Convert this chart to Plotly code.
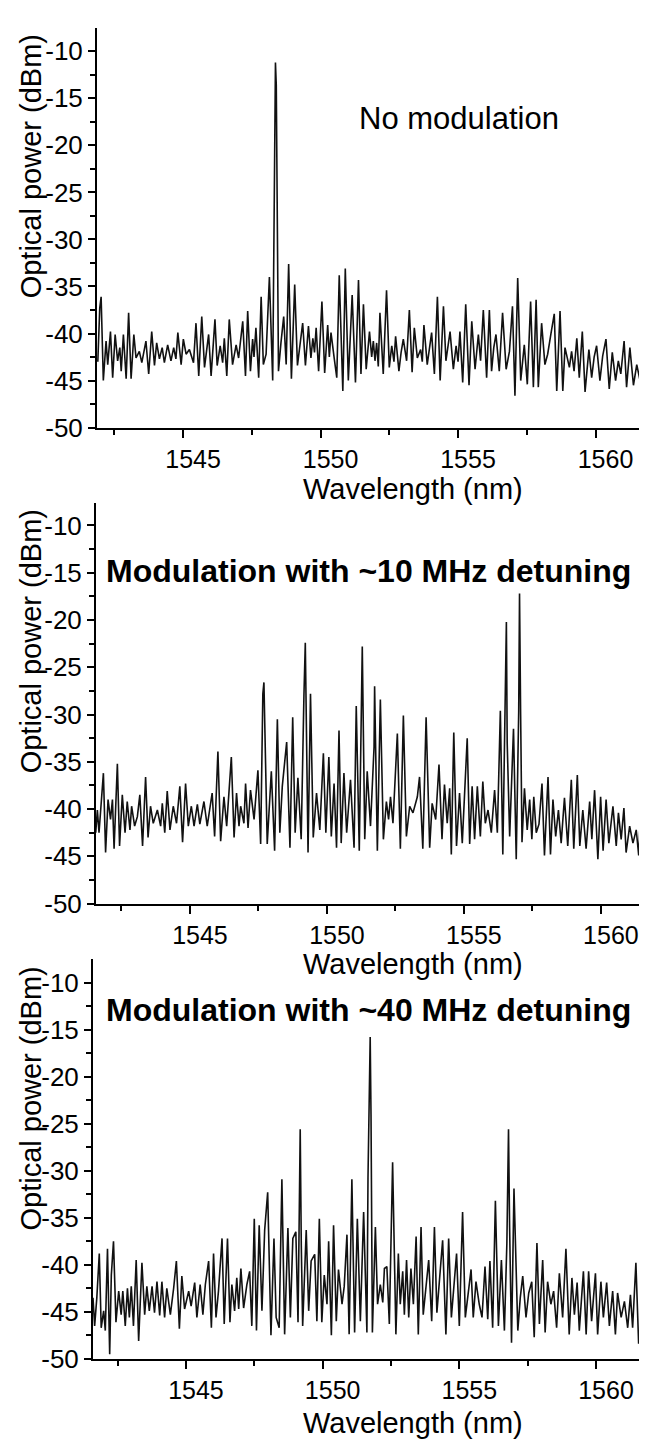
import plotly.graph_objects as go

# ---------------- data ----------------
# (wavelength nm, optical power dBm)
no_modulation = [
    (1541.90, -43.0), (1541.97, -37.3), (1542.02, -36.1), (1542.10, -45.0), (1542.20, -40.8),
    (1542.26, -43.3), (1542.36, -39.8), (1542.44, -44.7), (1542.53, -40.1), (1542.62, -42.9),
    (1542.70, -41.5), (1542.75, -44.0), (1542.83, -40.1), (1542.93, -44.8), (1543.02, -37.8),
    (1543.11, -44.8), (1543.21, -40.1), (1543.29, -42.6), (1543.41, -41.9), (1543.50, -43.1),
    (1543.65, -40.8), (1543.75, -44.3), (1543.86, -39.8), (1543.96, -43.4), (1544.04, -41.0),
    (1544.14, -42.7), (1544.24, -41.5), (1544.32, -43.1), (1544.44, -41.2), (1544.56, -42.9),
    (1544.66, -41.5), (1544.74, -42.7), (1544.81, -39.9), (1544.93, -43.3), (1545.01, -40.6),
    (1545.11, -42.2), (1545.23, -41.7), (1545.38, -43.1), (1545.47, -38.9), (1545.57, -44.5),
    (1545.68, -38.2), (1545.78, -43.6), (1545.93, -40.1), (1546.02, -44.5), (1546.16, -38.5),
    (1546.24, -43.4), (1546.35, -41.3), (1546.44, -43.1), (1546.50, -40.5), (1546.59, -44.5),
    (1546.68, -38.5), (1546.80, -43.3), (1546.93, -41.2), (1547.02, -42.6), (1547.17, -38.7),
    (1547.27, -44.5), (1547.35, -37.6), (1547.45, -44.0), (1547.53, -40.6), (1547.58, -42.5),
    (1547.65, -39.4), (1547.75, -44.7), (1547.84, -36.1), (1547.92, -43.3), (1548.02, -42.2),
    (1548.14, -34.0), (1548.26, -45.0), (1548.30, -31.5), (1548.33, -22.7), (1548.36, -11.2),
    (1548.39, -13.6), (1548.43, -31.8), (1548.47, -44.0), (1548.56, -41.0), (1548.66, -38.2),
    (1548.75, -43.3), (1548.84, -32.6), (1548.94, -44.8), (1549.06, -34.8), (1549.16, -43.4),
    (1549.25, -41.2), (1549.35, -38.9), (1549.45, -43.4), (1549.56, -39.2), (1549.65, -42.6),
    (1549.72, -40.5), (1549.78, -42.0), (1549.84, -39.4), (1549.93, -44.0), (1550.05, -36.6),
    (1550.15, -44.2), (1550.26, -39.1), (1550.32, -42.5), (1550.38, -39.9), (1550.50, -42.7),
    (1550.59, -44.7), (1550.68, -33.8), (1550.81, -46.1), (1550.90, -33.1), (1551.01, -45.0),
    (1551.15, -35.9), (1551.27, -45.2), (1551.38, -34.3), (1551.47, -44.3), (1551.56, -36.9),
    (1551.66, -43.8), (1551.78, -39.8), (1551.86, -42.5), (1551.92, -40.8), (1551.98, -42.9),
    (1552.04, -41.0), (1552.10, -43.5), (1552.16, -37.8), (1552.28, -44.3), (1552.40, -35.4),
    (1552.50, -43.6), (1552.59, -41.3), (1552.67, -43.0), (1552.73, -40.3), (1552.85, -44.0),
    (1552.93, -42.0), (1553.01, -40.6), (1553.13, -42.9), (1553.23, -37.5), (1553.33, -44.1),
    (1553.41, -39.4), (1553.52, -42.6), (1553.64, -41.7), (1553.70, -43.0), (1553.76, -39.1),
    (1553.88, -43.3), (1553.96, -41.5), (1554.04, -39.9), (1554.14, -44.3), (1554.25, -36.1),
    (1554.35, -45.0), (1554.47, -37.1), (1554.56, -42.9), (1554.64, -41.0), (1554.71, -39.8),
    (1554.83, -43.8), (1554.93, -41.3), (1555.00, -43.0), (1555.07, -39.8), (1555.17, -45.2),
    (1555.28, -36.9), (1555.40, -45.5), (1555.50, -38.7), (1555.62, -43.8), (1555.74, -40.1),
    (1555.82, -42.9), (1555.92, -37.5), (1556.04, -44.7), (1556.14, -37.5), (1556.22, -44.0),
    (1556.30, -41.5), (1556.38, -40.1), (1556.50, -44.0), (1556.62, -37.8), (1556.75, -43.8),
    (1556.87, -41.9), (1556.98, -37.1), (1557.07, -46.6), (1557.17, -34.1), (1557.28, -45.0),
    (1557.41, -41.2), (1557.52, -45.4), (1557.64, -36.6), (1557.74, -45.7), (1557.84, -36.4),
    (1557.92, -45.7), (1558.04, -38.9), (1558.16, -43.3), (1558.26, -42.2), (1558.38, -40.0),
    (1558.50, -37.9), (1558.59, -46.1), (1558.71, -37.6), (1558.81, -46.1), (1558.89, -41.5),
    (1559.05, -43.6), (1559.13, -41.9), (1559.22, -44.0), (1559.32, -40.5), (1559.41, -44.7),
    (1559.52, -39.8), (1559.62, -46.2), (1559.76, -41.7), (1559.86, -44.7), (1559.95, -42.5),
    (1560.04, -41.3), (1560.16, -45.0), (1560.26, -42.4), (1560.38, -40.6), (1560.50, -45.9),
    (1560.61, -42.0), (1560.73, -45.0), (1560.83, -42.9), (1560.92, -44.3), (1561.04, -40.8),
    (1561.13, -45.7), (1561.25, -41.5), (1561.38, -45.5), (1561.50, -43.3), (1561.62, -45.0),
    (1561.74, -43.8), (1561.80, -44.5),
]

detuning_10mhz = [
    (1541.56, -42.5), (1541.62, -40.1), (1541.68, -42.5), (1541.74, -39.7), (1541.84, -36.2),
    (1541.92, -44.6), (1542.01, -39.0), (1542.10, -41.1), (1542.17, -39.0), (1542.23, -44.2),
    (1542.35, -35.2), (1542.43, -43.9), (1542.53, -38.5), (1542.63, -42.5), (1542.71, -39.2),
    (1542.81, -42.2), (1542.87, -39.7), (1542.98, -41.8), (1543.08, -40.8), (1543.17, -38.5),
    (1543.27, -43.9), (1543.38, -36.6), (1543.47, -43.0), (1543.56, -39.7), (1543.66, -41.5),
    (1543.81, -40.1), (1543.93, -41.8), (1543.99, -39.4), (1544.08, -42.5), (1544.17, -38.1),
    (1544.27, -42.2), (1544.39, -39.7), (1544.51, -41.5), (1544.63, -37.6), (1544.73, -43.5),
    (1544.84, -37.3), (1544.94, -41.8), (1545.05, -39.7), (1545.15, -41.8), (1545.27, -39.5),
    (1545.36, -41.6), (1545.51, -39.2), (1545.63, -41.8), (1545.81, -38.3), (1545.90, -42.9),
    (1546.02, -33.9), (1546.12, -43.4), (1546.24, -38.7), (1546.34, -41.8), (1546.51, -34.5),
    (1546.61, -43.0), (1546.70, -38.3), (1546.79, -41.8), (1546.85, -39.7), (1546.97, -41.5),
    (1547.03, -37.3), (1547.12, -42.0), (1547.21, -38.0), (1547.34, -41.1), (1547.48, -35.9),
    (1547.58, -43.7), (1547.66, -27.8), (1547.70, -26.6), (1547.82, -43.7), (1547.97, -36.0),
    (1548.09, -44.4), (1548.19, -30.5), (1548.28, -42.5), (1548.37, -37.6), (1548.53, -32.9),
    (1548.65, -44.1), (1548.75, -30.3), (1548.84, -42.5), (1548.94, -36.7), (1549.06, -43.2),
    (1549.16, -28.0), (1549.21, -22.4), (1549.31, -44.6), (1549.40, -27.8), (1549.50, -43.0),
    (1549.62, -38.3), (1549.74, -42.2), (1549.87, -34.1), (1549.96, -42.5), (1550.07, -34.5),
    (1550.16, -42.9), (1550.26, -37.3), (1550.35, -44.1), (1550.44, -31.7), (1550.52, -43.6),
    (1550.62, -36.2), (1550.72, -42.5), (1550.86, -36.9), (1550.99, -44.1), (1551.07, -29.1),
    (1551.18, -44.4), (1551.29, -22.8), (1551.38, -43.2), (1551.47, -36.0), (1551.59, -41.8),
    (1551.72, -33.4), (1551.74, -27.0), (1551.84, -44.4), (1551.95, -28.4), (1552.06, -43.2),
    (1552.17, -39.2), (1552.25, -41.1), (1552.32, -38.7), (1552.41, -41.5), (1552.57, -32.0),
    (1552.68, -44.2), (1552.79, -30.1), (1552.90, -42.9), (1553.02, -39.7), (1553.14, -40.4),
    (1553.30, -38.7), (1553.38, -36.6), (1553.50, -44.2), (1553.62, -30.3), (1553.75, -44.1),
    (1553.84, -39.4), (1553.97, -41.1), (1554.09, -35.3), (1554.20, -43.2), (1554.29, -37.4),
    (1554.39, -41.5), (1554.48, -37.8), (1554.54, -44.8), (1554.63, -31.9), (1554.73, -43.9),
    (1554.84, -38.3), (1554.94, -43.6), (1555.12, -32.5), (1555.21, -43.7), (1555.30, -37.6),
    (1555.39, -43.2), (1555.49, -37.6), (1555.60, -42.9), (1555.69, -37.1), (1555.78, -41.5),
    (1555.88, -40.1), (1556.00, -42.5), (1556.12, -38.0), (1556.22, -42.5), (1556.33, -29.6),
    (1556.42, -44.8), (1556.52, -23.8), (1556.55, -20.2), (1556.58, -33.0), (1556.67, -42.9),
    (1556.81, -31.5), (1556.91, -45.3), (1557.00, -29.6), (1557.03, -17.2), (1557.07, -30.0),
    (1557.12, -43.5), (1557.21, -37.8), (1557.31, -42.2), (1557.40, -39.0), (1557.48, -43.2),
    (1557.55, -38.7), (1557.64, -42.5), (1557.74, -41.6), (1557.85, -37.3), (1557.94, -44.9),
    (1558.07, -36.6), (1558.16, -44.8), (1558.25, -39.0), (1558.35, -42.9), (1558.45, -40.1),
    (1558.55, -43.6), (1558.67, -38.8), (1558.79, -43.9), (1558.92, -36.9), (1559.01, -44.2),
    (1559.14, -36.4), (1559.23, -43.9), (1559.34, -40.1), (1559.46, -44.2), (1559.59, -39.2),
    (1559.67, -43.2), (1559.77, -38.0), (1559.89, -45.3), (1559.99, -38.7), (1560.08, -44.4),
    (1560.19, -39.0), (1560.29, -43.6), (1560.44, -39.7), (1560.56, -43.9), (1560.64, -40.4),
    (1560.74, -43.2), (1560.84, -39.9), (1560.92, -44.6), (1561.05, -41.8), (1561.17, -43.6),
    (1561.29, -42.2), (1561.38, -44.9), (1561.45, -40.0), (1561.50, -36.9), (1561.59, -44.9),
]

detuning_40mhz = [
    (1541.60, -43.5), (1541.66, -46.5), (1541.74, -43.5), (1541.83, -38.8), (1541.90, -46.7),
    (1541.99, -44.9), (1542.05, -47.0), (1542.13, -38.3), (1542.21, -49.5), (1542.27, -41.1),
    (1542.35, -37.5), (1542.44, -46.1), (1542.54, -42.8), (1542.63, -45.3), (1542.69, -42.8),
    (1542.78, -46.5), (1542.86, -42.5), (1542.93, -45.6), (1543.00, -42.3), (1543.08, -46.5),
    (1543.18, -39.5), (1543.27, -48.1), (1543.39, -39.8), (1543.49, -45.3), (1543.57, -42.3),
    (1543.66, -44.9), (1543.76, -42.3), (1543.85, -45.1), (1543.94, -41.8), (1544.04, -45.4),
    (1544.12, -41.8), (1544.22, -45.6), (1544.30, -42.5), (1544.43, -45.3), (1544.55, -42.5),
    (1544.65, -39.6), (1544.76, -46.8), (1544.85, -41.2), (1544.95, -44.7), (1545.10, -42.8),
    (1545.19, -44.4), (1545.32, -41.9), (1545.40, -45.6), (1545.52, -42.1), (1545.62, -45.3),
    (1545.71, -42.1), (1545.83, -39.6), (1545.93, -46.7), (1546.01, -38.8), (1546.10, -45.6),
    (1546.19, -42.8), (1546.32, -37.2), (1546.40, -46.3), (1546.52, -37.2), (1546.61, -46.1),
    (1546.68, -42.1), (1546.78, -44.9), (1546.86, -41.4), (1546.93, -44.7), (1547.01, -40.4),
    (1547.11, -44.6), (1547.23, -42.1), (1547.33, -40.7), (1547.41, -46.5), (1547.50, -35.1),
    (1547.58, -47.0), (1547.68, -35.8), (1547.78, -44.9), (1547.88, -36.3), (1547.99, -32.3),
    (1548.11, -47.5), (1548.22, -37.2), (1548.30, -45.6), (1548.41, -46.7), (1548.51, -30.9),
    (1548.61, -47.4), (1548.73, -36.1), (1548.82, -45.6), (1548.91, -37.2), (1549.02, -36.5),
    (1549.10, -46.1), (1549.15, -31.4), (1549.18, -25.6), (1549.22, -38.0), (1549.27, -46.5),
    (1549.40, -36.3), (1549.49, -44.9), (1549.58, -39.6), (1549.71, -38.9), (1549.79, -46.0),
    (1549.88, -35.1), (1549.97, -46.1), (1550.06, -41.1), (1550.16, -44.2), (1550.22, -37.5),
    (1550.32, -47.5), (1550.40, -35.8), (1550.50, -46.0), (1550.58, -40.5), (1550.71, -44.2),
    (1550.79, -42.3), (1550.89, -36.8), (1550.97, -47.4), (1551.07, -30.9), (1551.17, -47.2),
    (1551.27, -35.1), (1551.38, -46.0), (1551.50, -34.4), (1551.58, -42.8), (1551.62, -47.2),
    (1551.66, -30.7), (1551.70, -24.2), (1551.74, -15.8), (1551.77, -24.0), (1551.82, -47.2),
    (1551.93, -36.0), (1552.01, -44.2), (1552.11, -42.1), (1552.20, -44.0), (1552.26, -40.4),
    (1552.35, -40.2), (1552.44, -46.3), (1552.54, -31.0), (1552.56, -29.1), (1552.68, -47.4),
    (1552.77, -38.8), (1552.84, -44.2), (1552.93, -40.7), (1552.99, -45.3), (1553.07, -39.5),
    (1553.15, -45.6), (1553.23, -40.4), (1553.32, -44.2), (1553.42, -37.0), (1553.50, -47.4),
    (1553.60, -36.0), (1553.68, -45.3), (1553.78, -42.1), (1553.88, -39.5), (1553.99, -46.0),
    (1554.09, -36.0), (1554.18, -45.1), (1554.27, -42.1), (1554.39, -37.4), (1554.51, -47.4),
    (1554.61, -37.2), (1554.71, -45.6), (1554.82, -42.1), (1554.90, -38.8), (1555.00, -46.5),
    (1555.12, -34.4), (1555.22, -45.6), (1555.31, -43.2), (1555.43, -40.5), (1555.51, -45.6),
    (1555.61, -41.8), (1555.73, -44.2), (1555.83, -45.6), (1555.94, -40.2), (1556.04, -45.8),
    (1556.12, -39.6), (1556.22, -46.7), (1556.32, -33.2), (1556.43, -46.5), (1556.54, -39.5),
    (1556.65, -47.0), (1556.74, -37.7), (1556.78, -27.2), (1556.80, -25.6), (1556.84, -36.0),
    (1556.91, -48.3), (1557.00, -31.9), (1557.14, -47.0), (1557.23, -43.5), (1557.32, -41.2),
    (1557.44, -45.6), (1557.54, -43.0), (1557.65, -41.8), (1557.74, -47.7), (1557.84, -37.7),
    (1557.93, -46.3), (1558.05, -39.5), (1558.14, -47.2), (1558.23, -41.8), (1558.35, -44.2),
    (1558.45, -42.8), (1558.56, -46.7), (1558.66, -40.9), (1558.78, -45.6), (1558.90, -38.3),
    (1559.02, -47.4), (1559.12, -41.4), (1559.21, -45.3), (1559.31, -41.9), (1559.39, -47.0),
    (1559.54, -40.7), (1559.64, -47.4), (1559.73, -40.7), (1559.84, -46.0), (1559.98, -40.9),
    (1560.06, -47.4), (1560.18, -41.8), (1560.27, -45.6), (1560.39, -41.9), (1560.49, -46.5),
    (1560.61, -42.8), (1560.71, -47.4), (1560.79, -43.0), (1560.92, -45.6), (1561.04, -43.9),
    (1561.16, -46.7), (1561.26, -43.2), (1561.34, -46.7), (1561.46, -39.8), (1561.56, -48.4),
    (1561.65, -45.5),
]

x_tick_vals = [1545, 1550, 1555, 1560]
x_tick_text = ["1545", "1550", "1555", "1560"]
x_minor_vals = [1542.5, 1547.5, 1552.5, 1557.5]
y_tick_vals = [-50, -45, -40, -35, -30, -25, -20, -15, -10]
y_tick_text = ["-50", "-45", "-40", "-35", "-30", "-25", "-20", "-15", "-10"]
y_minor_vals = [-47.5, -42.5, -37.5, -32.5, -27.5, -22.5, -17.5, -12.5]

panel_labels = ["No modulation",
                "<b>Modulation with ~10 MHz detuning</b>",
                "<b>Modulation with ~40 MHz detuning</b>"]
x_title = "Wavelength (nm)"
y_title = "Optical power (dBm)"

# ---------------- layout geometry ----------------
W, H = 647, 1444
FONT = "Liberation Sans, Arial, Helvetica, sans-serif"

panels = [
    dict(data=no_modulation, xdom=[89 / W, 637 / W], ydom=[1 - 424 / H, 1 - 20 / H],
         xr=[1541.87, 1561.80], yr=[-50, -7.5]),
    dict(data=detuning_10mhz, xdom=[88 / W, 637 / W], ydom=[1 - 905 / H, 1 - 500 / H],
         xr=[1541.57, 1561.61], yr=[-50, -7.6]),
    dict(data=detuning_40mhz, xdom=[85 / W, 632 / W], ydom=[1 - 1365 / H, 1 - 961 / H],
         xr=[1541.60, 1561.61], yr=[-50, -7.5]),
]

fig = go.Figure()
layout = dict(width=W, height=H, margin=dict(l=0, r=0, t=0, b=0),
              paper_bgcolor="white", plot_bgcolor="white", showlegend=False,
              font=dict(family=FONT, color="black"))

for i, p in enumerate(panels):
    n = "" if i == 0 else str(i + 1)
    wl = [pt[0] for pt in p["data"]]
    pw = [pt[1] for pt in p["data"]]
    fig.add_trace(go.Scatter(x=wl, y=pw, mode="lines",
                             line=dict(color="#111111", width=1.6),
                             xaxis="x" + n, yaxis="y" + n, hoverinfo="skip"))
    layout["xaxis" + n] = dict(
        domain=p["xdom"], range=p["xr"], anchor="y" + n,
        showline=True, linecolor="black", linewidth=2, showgrid=False, zeroline=False,
        ticks="outside", ticklen=8, tickwidth=1.5, tickcolor="black",
        tickmode="array", tickvals=x_tick_vals, ticktext=x_tick_text,
        tickfont=dict(size=25, family=FONT, color="black"), ticklabelshift=10,
        minor=dict(tickmode="array", tickvals=x_minor_vals, ticks="outside",
                   ticklen=5, tickwidth=1.5, tickcolor="black", showgrid=False),
    )
    layout["yaxis" + n] = dict(
        domain=p["ydom"], range=p["yr"], anchor="x" + n,
        showline=True, linecolor="black", linewidth=2, showgrid=False, zeroline=False,
        ticks="outside", ticklen=7, tickwidth=1.5, tickcolor="black",
        tickmode="array", tickvals=y_tick_vals, ticktext=y_tick_text,
        tickfont=dict(size=26, family=FONT, color="black"), ticklabelstandoff=0,
        minor=dict(tickmode="array", tickvals=y_minor_vals, ticks="outside",
                   ticklen=5, tickwidth=1.5, tickcolor="black", showgrid=False),
    )

annotations = []
# y titles
for yc in [160, 640, 1102]:
    annotations.append(dict(text=y_title, x=23 / W, y=1 - yc / H, xref="paper", yref="paper",
                            showarrow=False, textangle=-90, xanchor="center", yanchor="middle",
                            font=dict(size=29, family=FONT, color="black")))
# x titles
for yc in [486, 966, 1430]:
    annotations.append(dict(text=x_title, x=405 / W, y=1 - yc / H, xref="paper", yref="paper",
                            showarrow=False, xanchor="center", yanchor="middle",
                            font=dict(size=29, family=FONT, color="black")))
# panel labels
annotations.append(dict(text=panel_labels[0], x=451 / W, y=1 - 112 / H, xref="paper", yref="paper",
                        showarrow=False, xanchor="center", yanchor="middle",
                        font=dict(size=31, family=FONT, color="black")))
annotations.append(dict(text=panel_labels[1], x=96 / W, y=1 - 569 / H, xref="paper", yref="paper",
                        showarrow=False, xanchor="left", yanchor="middle",
                        font=dict(size=32, family=FONT, color="black")))
annotations.append(dict(text=panel_labels[2], x=96 / W, y=1 - 1013 / H, xref="paper", yref="paper",
                        showarrow=False, xanchor="left", yanchor="middle",
                        font=dict(size=32, family=FONT, color="black")))
layout["annotations"] = annotations

fig.update_layout(**layout)
fig.write_html("out.html")
